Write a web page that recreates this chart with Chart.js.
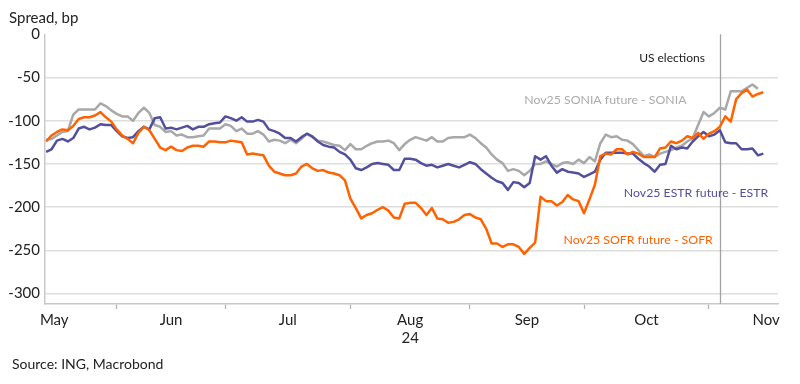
<!DOCTYPE html>
<html lang="en">
<head>
<meta charset="UTF-8">
<title>Nov25 futures spreads</title>
<script src="https://cdn.jsdelivr.net/npm/chart.js"></script>
<style>
  html, body { margin: 0; padding: 0; background: #fff; }
  #wrap { width: 800px; height: 384px; position: relative; }
</style>
</head>
<body>
<div id="wrap"><canvas id="chart" width="800" height="384"></canvas></div>
<script>
// Daily (business day) spreads, bp, starting on firstDay
const firstDay = '2024-05-15';

const sofr = [
  -124, -117, -113, -110, -111, -106, -98, -96, -96, -94,
  -90, -96, -101, -110, -117, -121, -126, -114, -107, -111,
  -121, -131, -134, -130, -134, -135, -131, -129, -129, -130,
  -124, -124, -125, -125, -123, -124, -125, -139, -138, -139,
  -140, -152, -159, -161, -163, -163, -161, -153, -150, -155,
  -158, -157, -160, -161, -163, -169, -190, -201, -213, -209,
  -207, -203, -200, -204, -212, -213, -196, -195, -195, -201,
  -209, -201, -213, -214, -218, -217, -214, -209, -208, -212,
  -214, -225, -242, -242, -246, -243, -243, -246, -254, -247,
  -241, -188, -193, -193, -198, -194, -186, -191, -193, -207,
  -191, -174, -141, -138, -139, -133, -133, -139, -136, -138,
  -142, -142, -142, -132, -131, -124, -126, -123, -118, -120,
  -114, -121, -115, -112, -107, -95, -101, -75, -68, -64,
  -72, -69, -67
];

const estr = [
  -136, -133, -123, -121, -124, -120, -109, -107, -110, -108,
  -104, -105, -105, -112, -118, -120, -119, -112, -107, -110,
  -97, -96, -109, -108, -110, -108, -106, -110, -107, -107,
  -104, -103, -102, -95, -97, -100, -96, -101, -101, -99,
  -101, -110, -112, -115, -120, -120, -124, -119, -115, -118,
  -124, -128, -130, -131, -136, -139, -145, -155, -157, -154,
  -150, -149, -150, -151, -157, -157, -144, -144, -145, -149,
  -152, -151, -154, -152, -150, -152, -154, -151, -148, -150,
  -156, -161, -166, -170, -172, -180, -171, -172, -177, -172,
  -141, -145, -141, -152, -160, -156, -159, -160, -161, -165,
  -162, -159, -145, -137, -137, -137, -137, -138, -138, -144,
  -149, -153, -159, -151, -150, -129, -133, -131, -132, -124,
  -118, -113, -118, -116, -111, -125, -126, -126, -133, -133,
  -132, -140, -138
];

const sonia = [
  -122, -121, -117, -113, -112, -93, -87, -87, -87, -87,
  -80, -83, -88, -92, -95, -95, -100, -91, -85, -91,
  -105, -107, -113, -112, -117, -116, -119, -119, -118, -117,
  -109, -109, -109, -104, -106, -112, -109, -115, -115, -112,
  -116, -124, -122, -123, -126, -122, -126, -121, -115, -119,
  -123, -124, -126, -128, -129, -134, -127, -133, -133, -129,
  -126, -124, -124, -123, -126, -134, -127, -122, -119, -121,
  -123, -119, -124, -124, -120, -119, -119, -119, -116, -120,
  -126, -131, -139, -145, -149, -158, -156, -158, -163, -158,
  -150, -150, -147, -150, -153, -149, -148, -150, -145, -149,
  -142, -147, -126, -116, -119, -118, -122, -123, -127, -134,
  -141, -139, -142, -138, -136, -134, -131, -129, -124, -120,
  -105, -90, -95, -91, -85, -87, -66, -66, -66, -62,
  -58, -63
];

const monthLabels = ['May', 'Jun', 'Jul', 'Aug', 'Sep', 'Oct', 'Nov'];
const monthStarts = ['2024-05-01', '2024-06-01', '2024-07-01', '2024-08-01',
                     '2024-09-01', '2024-10-01', '2024-11-01', '2024-12-01'];
const yearLabel = '24';
const yTicks = [0, -50, -100, -150, -200, -250, -300];
const electionDate = '2024-11-05';
const electionText = 'US elections';
const sourceText = 'Source: ING, Macrobond';
const yTitle = 'Spread, bp';

// number of weekdays between 1 May 2024 and the given day
function bizIndex(s) {
  const d0 = Date.UTC(2024, 4, 1);
  const [y, m, d] = s.split('-').map(Number);
  const t = Date.UTC(y, m - 1, d);
  let n = 0;
  for (let x = d0; x < t; x += 86400000) {
    const wd = new Date(x).getUTCDay();
    if (wd !== 0 && wd !== 6) n++;
  }
  return n;
}

const i0 = bizIndex(firstDay);
const toPoints = arr => arr.map((v, k) => ({ x: i0 + k, y: v }));

const starts = monthStarts.map(bizIndex);
const boundaries = starts.slice(1, -1);
const centers = monthLabels.map((m, k) => (starts[k] + starts[k + 1]) / 2);

const FONT = 'Lato, "Noto Sans", sans-serif';

const annotations = {
  id: 'annotations',
  beforeDatasetsDraw(chart) {
    const { ctx, chartArea, scales: { x } } = chart;
    const px = Math.round(x.getPixelForValue(bizIndex(electionDate))) + 0.5;
    ctx.save();
    ctx.strokeStyle = '#a3a3a3';
    ctx.lineWidth = 1.3;
    ctx.beginPath();
    ctx.moveTo(px, chartArea.top);
    ctx.lineTo(px, chartArea.bottom);
    ctx.stroke();
    ctx.restore();
  },
  afterDraw(chart) {
    const { ctx, scales: { x, y } } = chart;
    ctx.save();
    ctx.textBaseline = 'middle';

    ctx.fillStyle = '#222';
    ctx.font = '15px ' + FONT;
    ctx.textAlign = 'left';
    ctx.fillText(yTitle, 9, 18.5);

    ctx.font = '14px ' + FONT;
    ctx.fillText(sourceText, 12, 364.5);

    ctx.font = '12px ' + FONT;
    ctx.textAlign = 'right';
    ctx.fillText(electionText, x.getPixelForValue(bizIndex(electionDate)) - 15, 58.5);

    // series labels
    ctx.font = '12.3px ' + FONT;
    chart.data.datasets.forEach(ds => {
      const l = ds.tag;
      ctx.fillStyle = l.color;
      ctx.textAlign = l.align;
      ctx.fillText(ds.label, x.getPixelForValue(l.x), y.getPixelForValue(l.y));
    });
    ctx.restore();
  }
};

new Chart(document.getElementById('chart'), {
  type: 'line',
  data: {
    datasets: [
      {
        label: 'Nov25 SOFR future - SOFR',
        data: toPoints(sofr),
        borderColor: '#ff6200',
        tag: { x: 132.7, y: -238, align: 'right', color: '#ff6200' }
      },
      {
        label: 'Nov25 ESTR future - ESTR',
        data: toPoints(estr),
        borderColor: '#524f9d',
        tag: { x: 142.9, y: -183.5, align: 'right', color: '#524f9d' }
      },
      {
        label: 'Nov25 SONIA future - SONIA',
        data: toPoints(sonia),
        borderColor: '#a8a8a8',
        tag: { x: 98, y: -76, align: 'left', color: '#ababab' }
      }
    ]
  },
  options: {
    responsive: false,
    animation: false,
    layout: { padding: { top: 34.3, right: 22, left: 0, bottom: 0 } },
    elements: {
      line: { borderWidth: 2.5, tension: 0, borderJoinStyle: 'round' },
      point: { radius: 0 }
    },
    plugins: { legend: { display: false }, tooltip: { enabled: false } },
    scales: {
      x: {
        type: 'linear',
        min: 9.8,
        max: 144.7,
        afterBuildTicks: scale => {
          scale.ticks = boundaries.concat(centers).sort((a, b) => a - b).map(v => ({ value: v }));
        },
        afterFit: scale => { scale.height = 80; },
        grid: {
          drawOnChartArea: false,
          drawTicks: true,
          tickLength: 5,
          tickWidth: 1.3,
          tickColor: ctx => (ctx.tick && boundaries.includes(ctx.tick.value)) ? '#b5b5b5' : 'rgba(0,0,0,0)'
        },
        border: { display: true, color: '#c8c8c8', width: 1.5 },
        ticks: {
          autoSkip: false,
          maxRotation: 0,
          minRotation: 0,
          padding: 2,
          color: '#222',
          font: { family: FONT, size: 15 },
          callback: v => {
            const k = centers.indexOf(v);
            if (k < 0) return '';
            return monthLabels[k] === 'Aug' ? [monthLabels[k], yearLabel] : monthLabels[k];
          }
        }
      },
      y: {
        min: -312,
        max: 0,
        afterBuildTicks: scale => { scale.ticks = yTicks.map(v => ({ value: v })); },
        afterFit: scale => { scale.width = 45; },
        grid: {
          drawTicks: false,
          lineWidth: 1.5,
          color: ctx => (ctx.tick && ctx.tick.value === 0) ? 'rgba(0,0,0,0)' : '#dedede'
        },
        border: { display: true, color: '#c8c8c8', width: 1.5 },
        ticks: {
          padding: 5,
          color: '#222',
          font: { family: FONT, size: 15 }
        }
      }
    }
  },
  plugins: [annotations]
});
</script>
</body>
</html>
